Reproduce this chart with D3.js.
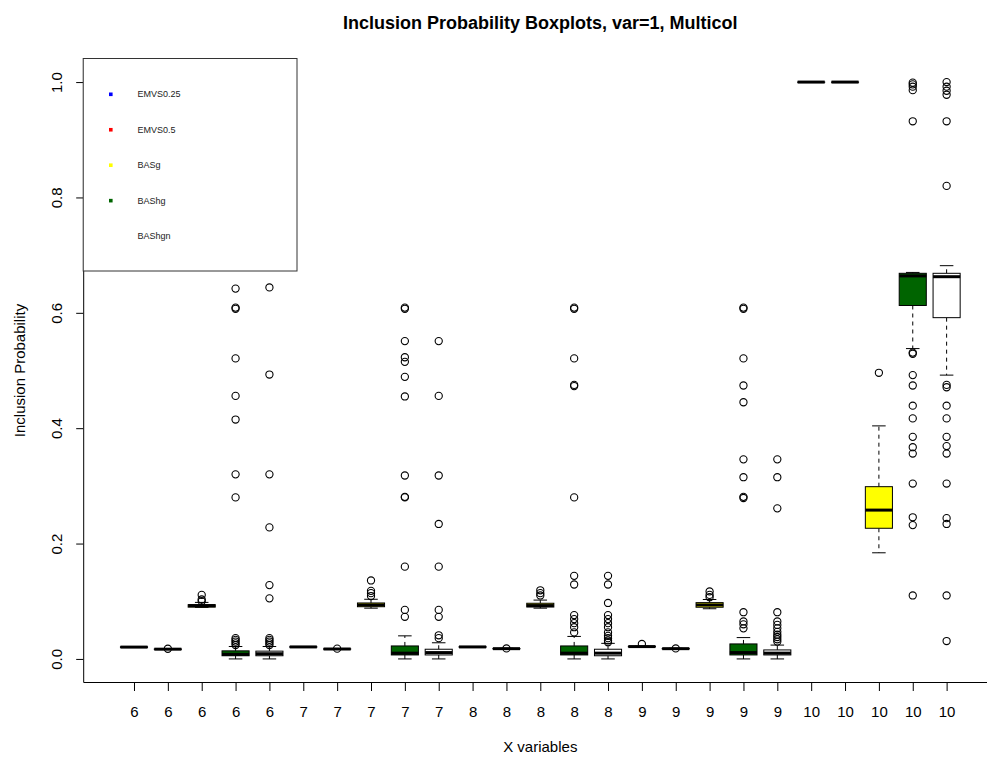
<!DOCTYPE html>
<html>
<head>
<meta charset="utf-8">
<script src="https://cdn.jsdelivr.net/npm/d3@7"></script>
<style>
  html, body { margin: 0; padding: 0; background: #fff; }
  svg { display: block; font-family: "Liberation Sans", Arial, Helvetica, sans-serif; }
</style>
</head>
<body>
<svg id="chart" width="987" height="760"></svg>
<script>
// ---------------- data ----------------
const xLabels = [6,6,6,6,6, 7,7,7,7,7, 8,8,8,8,8, 9,9,9,9,9, 10,10,10,10,10];
const methods = ["EMVS0.25", "EMVS0.5", "BASg", "BAShg", "BAShgn"];
const methodColors = ["#0000FF", "#FF0000", "#FFFF00", "#006400", "#FFFFFF"];

const whiskLo = [0.0198, 0.0163, 0.0893, 0.0,   0.0,
                 0.0201, 0.0166, 0.0880, 0.0,   0.0,
                 0.0201, 0.0172, 0.0880, 0.0,   0.0,
                 0.0207, 0.0172, 0.0870, 0.0,   0.0,
                 0.9995, 0.9995, 0.184,  0.538, 0.492];
const q1s     = [0.0200, 0.0166, 0.0898, 0.0055, 0.0055,
                 0.0204, 0.0169, 0.0905, 0.0069, 0.0069,
                 0.0204, 0.0175, 0.0900, 0.0069, 0.0055,
                 0.0210, 0.0175, 0.0896, 0.0069, 0.0069,
                 0.9997, 0.9997, 0.2265, 0.6127, 0.5916];
const medians = [0.0205, 0.0169, 0.0924, 0.0080, 0.0090,
                 0.0208, 0.0172, 0.0936, 0.0100, 0.0110,
                 0.0208, 0.0178, 0.0925, 0.0100, 0.0100,
                 0.0214, 0.0178, 0.0936, 0.0110, 0.0100,
                 1.0,    1.0,    0.258,  0.664,  0.6626];
const q3s     = [0.0210, 0.0172, 0.0940, 0.0140, 0.0135,
                 0.0212, 0.0175, 0.0970, 0.0225, 0.0168,
                 0.0212, 0.0181, 0.0965, 0.0225, 0.0168,
                 0.0218, 0.0181, 0.0976, 0.0260, 0.0156,
                 1.0,    1.0,    0.2986, 0.6685, 0.6685];
const whiskHi = [0.0212, 0.0175, 0.0980, 0.0215, 0.0215,
                 0.0215, 0.0178, 0.1034, 0.0400, 0.0280,
                 0.0215, 0.0184, 0.1020, 0.0390, 0.0270,
                 0.0221, 0.0184, 0.1030, 0.0370, 0.0240,
                 1.0,    1.0,    0.404,  0.670,  0.6817];
const outliers = [
  [],
  [0.0176],
  [0.100, 0.103, 0.111],
  [0.024, 0.027, 0.030, 0.033, 0.036, 0.280, 0.320, 0.415, 0.456, 0.521, 0.607, 0.609, 0.642],
  [0.024, 0.027, 0.030, 0.033, 0.036, 0.105, 0.128, 0.228, 0.320, 0.493, 0.644],
  [],
  [0.0178],
  [0.109, 0.114, 0.118, 0.136],
  [0.073, 0.085, 0.160, 0.280, 0.281, 0.318, 0.455, 0.489, 0.515, 0.523, 0.551, 0.607, 0.609],
  [0.036, 0.041, 0.073, 0.085, 0.160, 0.234, 0.318, 0.456, 0.551],
  [],
  [0.0182],
  [0.110, 0.114, 0.119],
  [0.046, 0.055, 0.062, 0.069, 0.076, 0.129, 0.144, 0.280, 0.473, 0.475, 0.521, 0.607, 0.609],
  [0.029, 0.032, 0.036, 0.040, 0.046, 0.055, 0.062, 0.069, 0.076, 0.097, 0.129, 0.144],
  [0.026],
  [0.0182],
  [0.107, 0.111, 0.117],
  [0.053, 0.060, 0.065, 0.081, 0.279, 0.281, 0.315, 0.346, 0.445, 0.474, 0.521, 0.607, 0.609],
  [0.030, 0.034, 0.038, 0.042, 0.047, 0.053, 0.059, 0.065, 0.081, 0.261, 0.315, 0.346],
  [],
  [],
  [0.496],
  [0.110, 0.232, 0.2455, 0.304, 0.356, 0.367, 0.385, 0.417, 0.439, 0.474, 0.492, 0.529, 0.531, 0.932, 0.986, 0.992, 0.996, 0.999],
  [0.031, 0.110, 0.234, 0.244, 0.304, 0.356, 0.369, 0.385, 0.417, 0.439, 0.471, 0.475, 0.820, 0.932, 0.978, 0.985, 0.992, 1.0]
];
const yTicks = [0.0, 0.2, 0.4, 0.6, 0.8, 1.0];

const titleText = "Inclusion Probability Boxplots, var=1, Multicol";
const xTitle = "X variables";
const yTitle = "Inclusion Probability";

// ---------------- layout ----------------
const plotLeft = 83.2, plotRight = 997.4, plotTop = 59, plotBottom = 682;
const svg = d3.select("#chart");

const x = d3.scaleLinear().domain([-0.5, 26.5]).range([plotLeft, plotRight]);
const y = d3.scaleLinear().domain([-0.04, 1.04]).range([plotBottom, plotTop]);

const unit = x(1) - x(0);
const boxW = 0.8 * unit;
const capW = 0.4 * unit;

const boxes = xLabels.map((lab, i) => ({
  pos: i + 1, lab, method: i % 5,
  lo: whiskLo[i], q1: q1s[i], med: medians[i], q3: q3s[i], hi: whiskHi[i],
  out: outliers[i]
}));

// title
svg.append("text")
  .attr("x", (plotLeft + plotRight) / 2).attr("y", 29)
  .attr("text-anchor", "middle")
  .style("font-weight", "bold").style("font-size", "18px")
  .text(titleText);

// axes
const xAxis = d3.axisBottom(x)
  .tickValues(d3.range(1, 26))
  .tickFormat(d => xLabels[d - 1])
  .tickSize(9).tickSizeOuter(0);
const gx = svg.append("g").attr("transform", `translate(0,${plotBottom})`).call(xAxis);
gx.select(".domain").attr("stroke", "#000");
gx.selectAll(".tick line").attr("stroke", "#000");
gx.selectAll(".tick text").attr("y", 35).attr("dy", 0)
  .style("font-size", "15px").attr("fill", "#000")
  .style("font-family", "'Liberation Sans', Arial, sans-serif");

const yAxis = d3.axisLeft(y)
  .tickValues(yTicks)
  .tickFormat(d3.format(".1f"))
  .tickSize(7).tickSizeOuter(0);
const gy = svg.append("g").attr("transform", `translate(${plotLeft},0)`).call(yAxis);
gy.select(".domain").attr("stroke", "#000");
gy.selectAll(".tick line").attr("stroke", "#000");
gy.selectAll(".tick text")
  .attr("transform", "rotate(-90)")
  .attr("x", 0).attr("y", -21).attr("dy", 0)
  .attr("text-anchor", "middle")
  .style("font-size", "15px").attr("fill", "#000")
  .style("font-family", "'Liberation Sans', Arial, sans-serif");

// axis titles
svg.append("text")
  .attr("x", (plotLeft + plotRight) / 2).attr("y", 752)
  .attr("text-anchor", "middle").style("font-size", "15px")
  .text(xTitle);
svg.append("text")
  .attr("transform", `translate(25,${(plotTop + plotBottom) / 2}) rotate(-90)`)
  .attr("text-anchor", "middle").style("font-size", "15px")
  .text(yTitle);

// boxes
const gb = svg.append("g");
const bx = gb.selectAll("g.box").data(boxes).join("g").attr("class", "box");

// whiskers (dashed)
bx.append("line")
  .attr("x1", d => x(d.pos)).attr("x2", d => x(d.pos))
  .attr("y1", d => y(d.q3)).attr("y2", d => y(d.hi))
  .attr("stroke", "#000").attr("stroke-dasharray", "4,4");
bx.append("line")
  .attr("x1", d => x(d.pos)).attr("x2", d => x(d.pos))
  .attr("y1", d => y(d.q1)).attr("y2", d => y(d.lo))
  .attr("stroke", "#000").attr("stroke-dasharray", "4,4");
// caps
bx.append("line")
  .attr("x1", d => x(d.pos) - capW / 2).attr("x2", d => x(d.pos) + capW / 2)
  .attr("y1", d => y(d.hi)).attr("y2", d => y(d.hi))
  .attr("stroke", "#000");
bx.append("line")
  .attr("x1", d => x(d.pos) - capW / 2).attr("x2", d => x(d.pos) + capW / 2)
  .attr("y1", d => y(d.lo)).attr("y2", d => y(d.lo))
  .attr("stroke", "#000");
// box
bx.append("rect")
  .attr("x", d => x(d.pos) - boxW / 2).attr("width", boxW)
  .attr("y", d => y(d.q3)).attr("height", d => Math.max(0, y(d.q1) - y(d.q3)))
  .attr("fill", d => methodColors[d.method])
  .attr("stroke", "#000").attr("stroke-width", 1);
// median
bx.append("line")
  .attr("x1", d => x(d.pos) - boxW / 2).attr("x2", d => x(d.pos) + boxW / 2)
  .attr("y1", d => y(d.med)).attr("y2", d => y(d.med))
  .attr("stroke", "#000").attr("stroke-width", 3);
// outliers
bx.selectAll("circle").data(d => d.out.map(v => ({ pos: d.pos, v })))
  .join("circle")
  .attr("cx", d => x(d.pos)).attr("cy", d => y(d.v))
  .attr("r", 3.6).attr("fill", "none").attr("stroke", "#000").attr("stroke-width", 1.1);

// legend
const lg = svg.append("g");
lg.append("rect")
  .attr("x", plotLeft).attr("y", 58.5)
  .attr("width", 297 - plotLeft).attr("height", 271 - 58.5)
  .attr("fill", "#fff").attr("stroke", "#333").attr("stroke-width", 1);
const legItems = lg.selectAll("g.item").data(methods).join("g").attr("class", "item")
  .attr("transform", (d, i) => `translate(0,${94.3 + i * 35.45})`);
legItems.append("rect")
  .attr("x", 109).attr("y", -1.8).attr("width", 3.6).attr("height", 3.6)
  .attr("fill", (d, i) => methodColors[i]);
legItems.append("text")
  .attr("x", 137.5).attr("y", 0).attr("dy", "0.35em")
  .style("font-size", "9px").attr("fill", "#222")
  .text(d => d);
</script>
</body>
</html>
